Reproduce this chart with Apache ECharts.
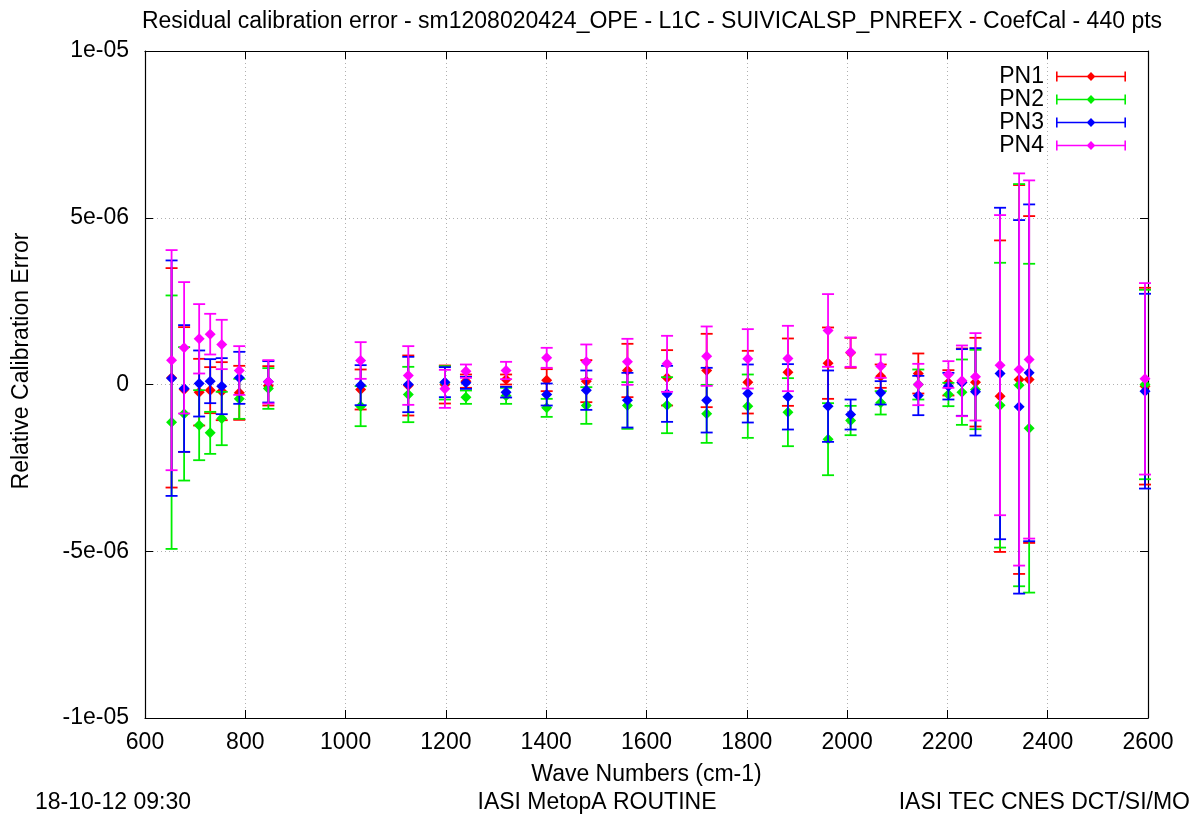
<!DOCTYPE html>
<html>
<head>
<meta charset="utf-8">
<title>Residual calibration error</title>
<script src="https://cdn.jsdelivr.net/npm/echarts@6/dist/echarts.min.js"></script>
<style>
  html, body { margin: 0; padding: 0; background: #ffffff; }
  #chart { width: 1195px; height: 816px; }
</style>
</head>
<body>
<div id="chart"></div>
<script>
// Wave numbers (cm-1) of the calibration channels
const waveNumbers = [653, 678, 708, 730, 753, 788, 846, 1030, 1125, 1198, 1240, 1320, 1401, 1480, 1562,
                     1641, 1720, 1802, 1882, 1962, 2007, 2067, 2142, 2202, 2229, 2256, 2305, 2343, 2363, 2594];

// Relative calibration error and its uncertainty, in units of 1e-06
const pn1Val = [0.20, -0.15, -0.23, -0.17, -0.20, -0.25, -0.04, -0.15, -0.03, 0.00, 0.10, 0.15, 0.13, 0.10, 0.42,
                0.20, 0.42, 0.07, 0.37, 0.64, 0.95, 0.25, 0.33, 0.05, 0.07, 0.07, -0.35, 0.15, 0.15, -0.05];
const pn1Err = [3.29, 1.87, 1.00, 0.69, 0.87, 0.81, 0.59, 0.60, 0.90, 0.57, 0.20, 0.15, 0.33, 0.63, 0.80,
                0.83, 1.10, 0.94, 1.01, 1.07, 0.45, 0.35, 0.60, 0.38, 1.01, 1.33, 4.67, 5.83, 4.90, 2.95];

const pn2Val = [-1.13, -0.88, -1.22, -1.45, -1.02, -0.43, -0.12, -0.65, -0.30, 0.05, -0.38, -0.34, -0.70, -0.63, -0.63,
                -0.62, -0.88, -0.65, -0.83, -1.64, -1.08, -0.55, 0.00, -0.30, -0.23, -0.15, -0.62, -0.02, -1.31, 0.00];
const pn2Err = [3.80, 2.00, 1.05, 0.63, 0.80, 0.60, 0.61, 0.60, 0.83, 0.50, 0.20, 0.24, 0.27, 0.55, 0.70,
                0.84, 0.87, 0.95, 1.02, 1.08, 0.44, 0.35, 0.45, 0.35, 0.98, 1.19, 4.27, 6.03, 4.93, 2.84];

const pn3Val = [0.19, -0.12, 0.03, 0.10, -0.05, 0.20, 0.08, -0.02, 0.00, 0.07, 0.05, -0.23, -0.30, -0.17, -0.47,
                -0.28, -0.47, -0.27, -0.37, -0.65, -0.90, -0.25, -0.33, -0.05, 0.06, -0.22, 0.33, -0.67, 0.35, -0.20];
const pn3Err = [3.53, 1.90, 0.99, 0.66, 0.84, 0.78, 0.62, 0.60, 0.83, 0.45, 0.18, 0.16, 0.33, 0.59, 0.82,
                0.84, 0.97, 0.87, 0.98, 1.07, 0.45, 0.35, 0.59, 0.40, 1.00, 1.31, 4.97, 5.60, 5.05, 2.92];

const pn4Val = [0.73, 1.10, 1.37, 1.51, 1.20, 0.42, 0.08, 0.72, 0.27, -0.13, 0.40, 0.42, 0.80, 0.68, 0.68,
                0.62, 0.85, 0.77, 0.78, 1.62, 0.97, 0.55, 0.00, 0.30, 0.11, 0.23, 0.58, 0.45, 0.75, 0.17];
const pn4Err = [3.30, 1.97, 1.04, 0.61, 0.74, 0.73, 0.65, 0.55, 0.88, 0.57, 0.20, 0.26, 0.30, 0.52, 0.69,
                0.84, 0.89, 0.89, 0.98, 1.09, 0.44, 0.35, 0.62, 0.40, 1.06, 1.31, 4.50, 5.88, 5.37, 2.87];

const seriesNames = ['PN1', 'PN2', 'PN3', 'PN4'];
const seriesColors = ['#ff0000', '#00ee00', '#0000ff', '#ff00ff'];

// Tick labels of the y axis (keys in units of 1e-06)
const yTickLabels = { '-10': '-1e-05', '-5': '-5e-06', '0': '0', '5': '5e-06', '10': '1e-05' };

const FONT = 'Liberation Sans, Arial, sans-serif';
const FS = 23;

// One error bar per channel: vertical segment, end caps and a diamond at the value
function errorBarSeries(name, color, vals, errs) {
  return {
    type: 'custom',
    name: name,
    itemStyle: { color: color },
    encode: { x: 0, y: 1 },
    data: waveNumbers.map((x, i) => [x, vals[i], errs[i]]),
    renderItem: function (params, api) {
      const x = api.value(0), v = api.value(1), e = api.value(2);
      const top = api.coord([x, v + e]);
      const bot = api.coord([x, v - e]);
      const mid = api.coord([x, v]);
      const cw = 6, d = 5.5;
      const lineStyle = { stroke: color, lineWidth: 1.8 };
      return {
        type: 'group',
        children: [
          { type: 'line', shape: { x1: top[0], y1: top[1], x2: bot[0], y2: bot[1] }, style: lineStyle },
          { type: 'line', shape: { x1: top[0] - cw, y1: top[1], x2: top[0] + cw, y2: top[1] }, style: lineStyle },
          { type: 'line', shape: { x1: bot[0] - cw, y1: bot[1], x2: bot[0] + cw, y2: bot[1] }, style: lineStyle },
          { type: 'polygon',
            shape: { points: [[mid[0], mid[1] - d], [mid[0] + d, mid[1]], [mid[0], mid[1] + d], [mid[0] - d, mid[1]]] },
            style: { fill: color } }
        ]
      };
    }
  };
}

const seriesData = [[pn1Val, pn1Err], [pn2Val, pn2Err], [pn3Val, pn3Err], [pn4Val, pn4Err]];

// Legend sample: horizontal bar with end caps and a diamond in the middle
const legendIcon = 'path://M0 5.2 H70 V6.8 H0 Z M0 1 H1.6 V11 H0 Z M68.4 1 H70 V11 H68.4 Z M35 1.6 L39.4 6 L35 10.4 L30.6 6 Z';

const gridLine = { show: true, lineStyle: { color: '#b0b0b0', type: [1, 3], width: 1 } };
const tickStyle = { show: true, inside: true, length: 8, lineStyle: { color: '#000', width: 1 } };
const axisLine = { show: true, onZero: false, lineStyle: { color: '#000', width: 1.2 } };

const chart = echarts.init(document.getElementById('chart'), null, { renderer: 'canvas' });

chart.setOption({
  backgroundColor: '#ffffff',
  animation: false,
  title: {
    text: 'Residual calibration error - sm1208020424_OPE - L1C - SUIVICALSP_PNREFX - CoefCal - 440 pts',
    left: 647,
    textAlign: 'center',
    top: 5,
    textStyle: { fontFamily: FONT, fontSize: FS, fontWeight: 'normal', color: '#000' }
  },
  legend: {
    orient: 'vertical',
    right: 64,
    top: 60,
    align: 'right',
    itemWidth: 70,
    itemHeight: 12,
    itemGap: 0,
    icon: legendIcon,
    data: seriesNames,
    textStyle: { fontFamily: FONT, fontSize: FS, color: '#000', padding: [0, 7, 0, 0] }
  },
  grid: { left: 145, right: 47, top: 51, bottom: 98, containLabel: false },
  xAxis: [
    {
      type: 'value', min: 600, max: 2600, interval: 200, position: 'bottom',
      name: 'Wave Numbers (cm-1)', nameLocation: 'middle', nameGap: 45,
      nameTextStyle: { fontFamily: FONT, fontSize: FS, color: '#000' },
      axisLine: axisLine, axisTick: tickStyle, splitLine: gridLine,
      axisLabel: { fontFamily: FONT, fontSize: FS, color: '#000', margin: 13,
                   formatter: function (v) { return String(v); } }
    },
    {
      type: 'value', min: 600, max: 2600, interval: 200, position: 'top',
      axisLine: axisLine, axisTick: tickStyle, splitLine: { show: false }, axisLabel: { show: false }
    }
  ],
  yAxis: [
    {
      type: 'value', min: -10, max: 10, interval: 5, position: 'left',
      axisLine: axisLine, axisTick: tickStyle, splitLine: gridLine,
      axisLabel: {
        fontFamily: FONT, fontSize: FS, color: '#000', margin: 16,
        formatter: function (v) { return yTickLabels[String(Math.round(v))] || ''; }
      }
    },
    {
      type: 'value', min: -10, max: 10, interval: 5, position: 'right',
      axisLine: axisLine, axisTick: tickStyle, splitLine: { show: false }, axisLabel: { show: false }
    }
  ],
  graphic: [
    { type: 'text', x: 22, y: 361, rotation: Math.PI / 2,
      style: { text: 'Relative Calibration Error', fontFamily: FONT, fontSize: FS, fill: '#000',
               textAlign: 'center', textVerticalAlign: 'middle' } },
    { type: 'text', x: 35, y: 803,
      style: { text: '18-10-12 09:30', fontFamily: FONT, fontSize: FS, fill: '#000',
               textAlign: 'left', textVerticalAlign: 'middle' } },
    { type: 'text', x: 597, y: 803,
      style: { text: 'IASI MetopA ROUTINE', fontFamily: FONT, fontSize: FS, fill: '#000',
               textAlign: 'center', textVerticalAlign: 'middle' } },
    { type: 'text', x: 1190, y: 803,
      style: { text: 'IASI TEC CNES DCT/SI/MO', fontFamily: FONT, fontSize: FS, fill: '#000',
               textAlign: 'right', textVerticalAlign: 'middle' } }
  ],
  series: seriesNames.map((n, i) => errorBarSeries(n, seriesColors[i], seriesData[i][0], seriesData[i][1]))
});
</script>
</body>
</html>
